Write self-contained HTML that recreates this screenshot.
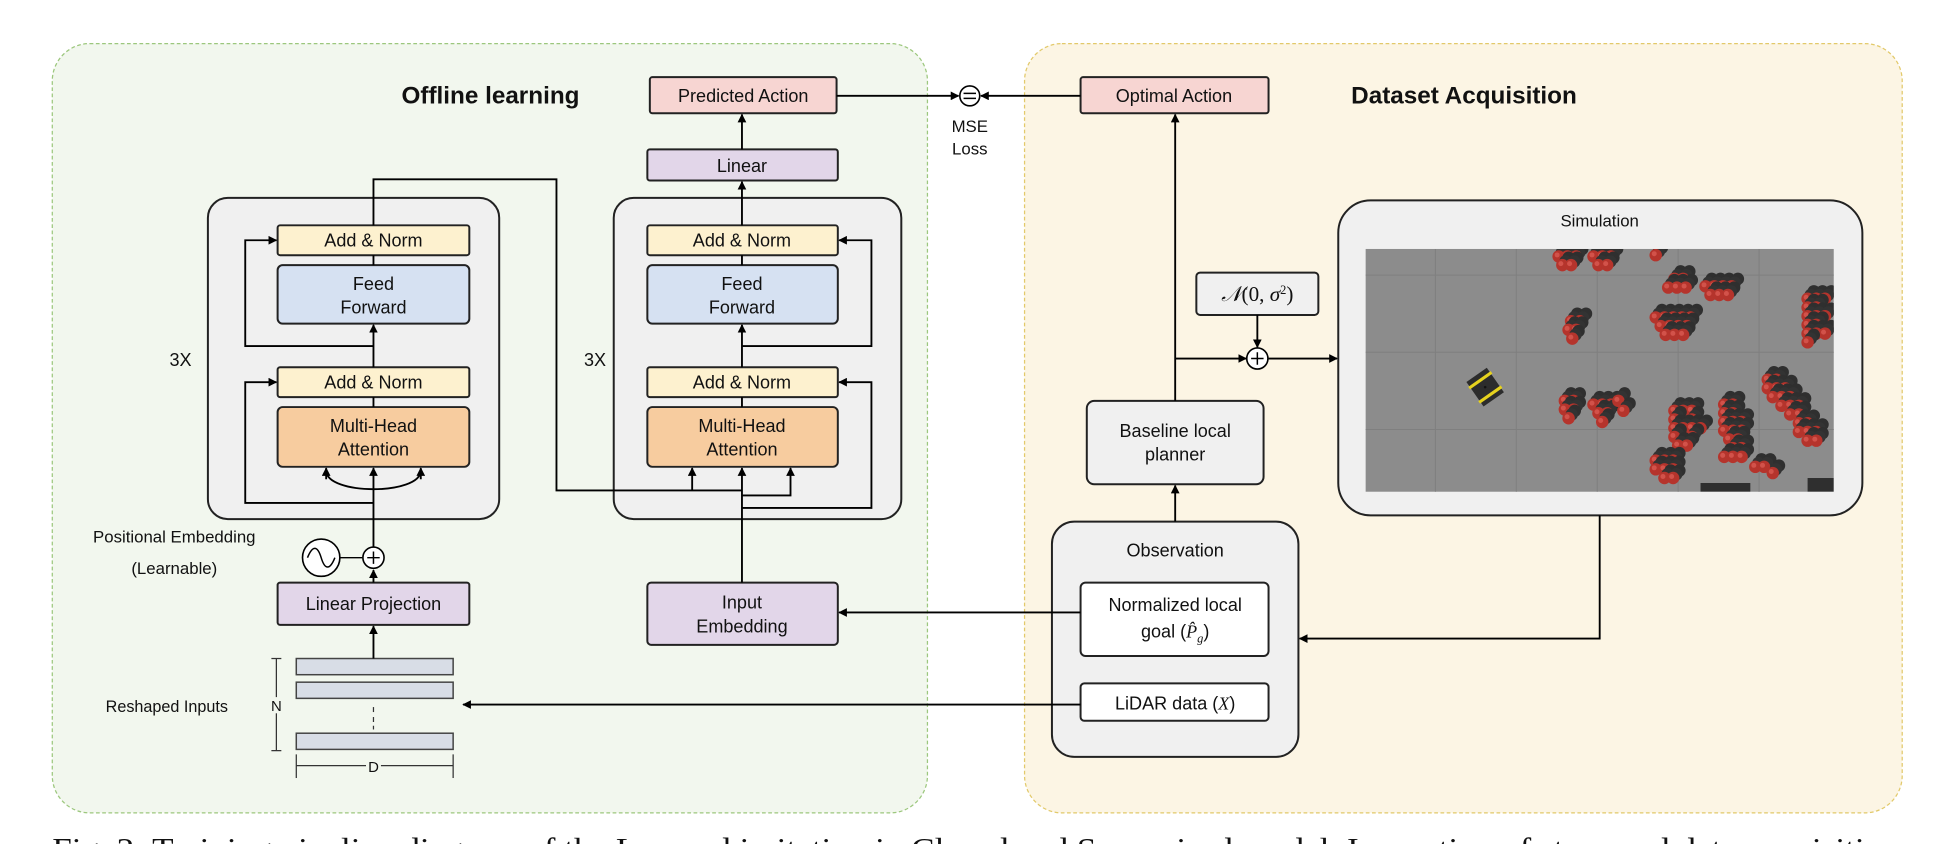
<!DOCTYPE html>
<html><head><meta charset="utf-8"><style>
html,body{margin:0;padding:0;background:#fff;width:1952px;height:844px;overflow:hidden}
svg{display:block}
text{font-family:"Liberation Sans",Arial,sans-serif;fill:#111}
</style></head><body>
<svg width="1952" height="844" viewBox="0 0 1568 678" preserveAspectRatio="none" xmlns="http://www.w3.org/2000/svg">
<defs>
<marker id="a" viewBox="0 0 10 10" refX="9" refY="5" markerWidth="7" markerHeight="7" orient="auto" markerUnits="userSpaceOnUse"><path d="M0,0L10,5L0,10z" fill="#000"/></marker>
<g id="o"><circle cx="5" cy="-6" r="5" fill="#2f2f2f"/><circle cx="2.5" cy="-3" r="5" fill="#333"/><circle r="5" fill="#b5342c"/><circle cx="-1.2" cy="-1.2" r="2" fill="#d2524a"/></g>
</defs>
<!-- panels -->
<rect x="42" y="35" width="703" height="618" rx="30" fill="#f2f7ee" stroke="#9cc77d" stroke-width="1" stroke-dasharray="3,2"/>
<rect x="823" y="35" width="705" height="618" rx="30" fill="#fcf5e4" stroke="#e2c96a" stroke-width="1" stroke-dasharray="3,2"/>
<text x="394" y="83" font-size="19.5" font-weight="bold" text-anchor="middle">Offline learning</text>
<text x="1176" y="83" font-size="19.5" font-weight="bold" text-anchor="middle">Dataset Acquisition</text>

<g stroke="#222" stroke-width="1.6">
<rect x="167" y="159" width="234" height="258" rx="16" fill="#f0f0f0"/>
<rect x="493" y="159" width="231" height="258" rx="16" fill="#f0f0f0"/>
<rect x="223" y="181" width="154" height="24" rx="2" fill="#fdf1cf"/>
<rect x="223" y="213" width="154" height="47" rx="4" fill="#d6e1f2"/>
<rect x="223" y="295" width="154" height="24" rx="2" fill="#fdf1cf"/>
<rect x="223" y="327" width="154" height="48" rx="4" fill="#f7cc9f"/>
<rect x="520" y="181" width="153" height="24" rx="2" fill="#fdf1cf"/>
<rect x="520" y="213" width="153" height="47" rx="4" fill="#d6e1f2"/>
<rect x="520" y="295" width="153" height="24" rx="2" fill="#fdf1cf"/>
<rect x="520" y="327" width="153" height="48" rx="4" fill="#f7cc9f"/>
<rect x="520" y="120" width="153" height="25" rx="2" fill="#e2d6e9"/>
<rect x="522" y="62" width="150" height="29" rx="2" fill="#f7d5d2"/>
<rect x="223" y="468" width="154" height="34" rx="2" fill="#e2d6e9"/>
<rect x="520" y="468" width="153" height="50" rx="3" fill="#e2d6e9"/>
<rect x="868" y="62" width="151" height="29" rx="2" fill="#f7d5d2"/>
<rect x="873" y="322" width="142" height="67" rx="6" fill="#f0f0f0"/>
<rect x="961" y="219" width="98" height="34" rx="3" fill="#f0f0f0"/>
<rect x="1075" y="161" width="421" height="253" rx="26" fill="#f0f0f0"/>
<rect x="845" y="419" width="198" height="189" rx="18" fill="#f0f0f0"/>
<rect x="868" y="468" width="151" height="59" rx="4" fill="#fff"/>
<rect x="868" y="549" width="151" height="30" rx="3" fill="#fff"/>
</g>
<g stroke="#444" stroke-width="1.2" fill="#d8dde6">
<rect x="238" y="529" width="126" height="13"/>
<rect x="238" y="548" width="126" height="13"/>
<rect x="238" y="589" width="126" height="13"/>
</g>
<g stroke="#333" stroke-width="1">
<line x1="300" y1="568" x2="300" y2="572"/><line x1="300" y1="576" x2="300" y2="580"/><line x1="300" y1="583" x2="300" y2="586"/>
<line x1="222" y1="529" x2="222" y2="603"/><line x1="218" y1="529" x2="226" y2="529"/><line x1="218" y1="603" x2="226" y2="603"/>
<line x1="238" y1="615" x2="364" y2="615"/><line x1="238" y1="606" x2="238" y2="625"/><line x1="364" y1="606" x2="364" y2="625"/>
</g>
<rect x="217" y="560" width="10" height="13" fill="#f2f7ee"/>
<text x="222" y="571" font-size="12" text-anchor="middle">N</text>
<rect x="294" y="609" width="12" height="13" fill="#f2f7ee"/>
<text x="300" y="620" font-size="12" text-anchor="middle">D</text>
<text x="134" y="572" font-size="13" text-anchor="middle">Reshaped Inputs</text>

<rect x="1097" y="200" width="376" height="195" fill="#8c8c8c"/>
<g stroke="#7f7f7f" stroke-width="0.8">
<line x1="1153" y1="200" x2="1153" y2="395"/><line x1="1218" y1="200" x2="1218" y2="395"/><line x1="1283" y1="200" x2="1283" y2="395"/><line x1="1348" y1="200" x2="1348" y2="395"/><line x1="1413" y1="200" x2="1413" y2="395"/>
<line x1="1097" y1="221" x2="1473" y2="221"/><line x1="1097" y1="283" x2="1473" y2="283"/><line x1="1097" y1="345" x2="1473" y2="345"/>
</g>
<svg x="1097" y="200" width="376" height="195" viewBox="1097 200 376 195" overflow="hidden">
<use href="#o" x="1252" y="206"/><use href="#o" x="1259" y="206"/><use href="#o" x="1266" y="206"/><use href="#o" x="1255" y="213"/><use href="#o" x="1262" y="213"/>
<use href="#o" x="1280" y="206"/><use href="#o" x="1287" y="206"/><use href="#o" x="1294" y="206"/><use href="#o" x="1284" y="213"/><use href="#o" x="1291" y="213"/><use href="#o" x="1330" y="205"/>
<use href="#o" x="1345" y="224"/><use href="#o" x="1352" y="224"/><use href="#o" x="1340" y="231"/><use href="#o" x="1347" y="231"/><use href="#o" x="1354" y="231"/>
<use href="#o" x="1370" y="230"/><use href="#o" x="1377" y="230"/><use href="#o" x="1384" y="230"/><use href="#o" x="1391" y="230"/><use href="#o" x="1374" y="237"/><use href="#o" x="1381" y="237"/><use href="#o" x="1388" y="237"/>
<use href="#o" x="1330" y="255"/><use href="#o" x="1337" y="255"/><use href="#o" x="1344" y="255"/><use href="#o" x="1351" y="255"/><use href="#o" x="1358" y="255"/>
<use href="#o" x="1334" y="262"/><use href="#o" x="1341" y="262"/><use href="#o" x="1348" y="262"/><use href="#o" x="1355" y="262"/><use href="#o" x="1338" y="269"/><use href="#o" x="1345" y="269"/><use href="#o" x="1352" y="269"/>
<use href="#o" x="1262" y="258"/><use href="#o" x="1269" y="258"/><use href="#o" x="1260" y="265"/><use href="#o" x="1266" y="265"/><use href="#o" x="1263" y="272"/>
<use href="#o" x="1452" y="240"/><use href="#o" x="1459" y="240"/><use href="#o" x="1466" y="240"/><use href="#o" x="1452" y="247"/><use href="#o" x="1459" y="247"/><use href="#o" x="1452" y="254"/><use href="#o" x="1459" y="254"/><use href="#o" x="1466" y="254"/><use href="#o" x="1452" y="261"/><use href="#o" x="1459" y="261"/><use href="#o" x="1452" y="268"/><use href="#o" x="1459" y="268"/><use href="#o" x="1466" y="268"/><use href="#o" x="1452" y="275"/>
<use href="#o" x="1257" y="322"/><use href="#o" x="1264" y="322"/><use href="#o" x="1257" y="329"/><use href="#o" x="1264" y="329"/><use href="#o" x="1260" y="336"/>
<use href="#o" x="1280" y="325"/><use href="#o" x="1287" y="325"/><use href="#o" x="1294" y="325"/><use href="#o" x="1284" y="332"/><use href="#o" x="1291" y="332"/><use href="#o" x="1287" y="339"/><use href="#o" x="1300" y="322"/><use href="#o" x="1304" y="330"/>
<use href="#o" x="1345" y="330"/><use href="#o" x="1352" y="330"/><use href="#o" x="1359" y="330"/><use href="#o" x="1345" y="337"/><use href="#o" x="1359" y="337"/><use href="#o" x="1345" y="344"/><use href="#o" x="1352" y="344"/><use href="#o" x="1359" y="344"/><use href="#o" x="1366" y="344"/><use href="#o" x="1345" y="351"/><use href="#o" x="1359" y="351"/><use href="#o" x="1348" y="358"/><use href="#o" x="1355" y="358"/>
<use href="#o" x="1385" y="325"/><use href="#o" x="1392" y="325"/><use href="#o" x="1385" y="332"/><use href="#o" x="1392" y="332"/><use href="#o" x="1385" y="339"/><use href="#o" x="1392" y="339"/><use href="#o" x="1399" y="339"/><use href="#o" x="1385" y="346"/><use href="#o" x="1392" y="346"/><use href="#o" x="1399" y="346"/><use href="#o" x="1389" y="353"/><use href="#o" x="1396" y="353"/><use href="#o" x="1392" y="360"/><use href="#o" x="1399" y="360"/><use href="#o" x="1385" y="367"/><use href="#o" x="1392" y="367"/><use href="#o" x="1399" y="367"/>
<use href="#o" x="1420" y="305"/><use href="#o" x="1427" y="305"/><use href="#o" x="1420" y="312"/><use href="#o" x="1427" y="312"/><use href="#o" x="1434" y="312"/><use href="#o" x="1424" y="319"/><use href="#o" x="1431" y="319"/><use href="#o" x="1438" y="319"/><use href="#o" x="1431" y="326"/><use href="#o" x="1438" y="326"/><use href="#o" x="1445" y="326"/><use href="#o" x="1438" y="333"/><use href="#o" x="1445" y="333"/><use href="#o" x="1445" y="340"/><use href="#o" x="1452" y="340"/><use href="#o" x="1445" y="347"/><use href="#o" x="1452" y="347"/><use href="#o" x="1459" y="347"/><use href="#o" x="1452" y="354"/><use href="#o" x="1459" y="354"/>
<use href="#o" x="1330" y="370"/><use href="#o" x="1337" y="370"/><use href="#o" x="1344" y="370"/><use href="#o" x="1330" y="377"/><use href="#o" x="1337" y="377"/><use href="#o" x="1344" y="377"/><use href="#o" x="1337" y="384"/><use href="#o" x="1344" y="384"/>
<use href="#o" x="1410" y="375"/><use href="#o" x="1417" y="375"/><use href="#o" x="1424" y="380"/>
<rect x="1366" y="388" width="40" height="7" fill="#2f2f2f"/><rect x="1452" y="384" width="21" height="11" fill="#2f2f2f"/>
</svg>
<g transform="translate(1193,311) rotate(-35)">
<rect x="-10" y="-12" width="20" height="24" fill="#2c2c2c"/>
<rect x="-11" y="-8" width="22" height="2.5" fill="#e6d21e"/>
<rect x="-11" y="6" width="22" height="2.5" fill="#e6d21e"/>
<circle r="1" fill="#111"/>
</g>

<g stroke="#000" stroke-width="1.5" fill="none">
<line x1="300" y1="529" x2="300" y2="503" marker-end="url(#a)"/>
<line x1="300" y1="468" x2="300" y2="458" marker-end="url(#a)"/>
<line x1="300" y1="439" x2="300" y2="376" marker-end="url(#a)"/>
<path d="M262,378 C262,398 338,398 338,378"/>
<line x1="262" y1="385" x2="262" y2="376" marker-end="url(#a)"/>
<line x1="338" y1="385" x2="338" y2="376" marker-end="url(#a)"/>
<line x1="300" y1="327" x2="300" y2="319"/>
<line x1="300" y1="295" x2="300" y2="261" marker-end="url(#a)"/>
<line x1="300" y1="213" x2="300" y2="205"/>
<path d="M300,404 H197 V307 H222" marker-end="url(#a)"/>
<path d="M300,278 H197 V193 H222" marker-end="url(#a)"/>
<path d="M300,181 V144 H447 V394 H596"/>
<line x1="556" y1="394" x2="556" y2="376" marker-end="url(#a)"/>
<line x1="596" y1="468" x2="596" y2="376" marker-end="url(#a)"/>
<path d="M596,398 H635 V376" marker-end="url(#a)"/>
<path d="M596,408 H700 V307 H674" marker-end="url(#a)"/>
<path d="M596,278 H700 V193 H674" marker-end="url(#a)"/>
<line x1="596" y1="327" x2="596" y2="319"/>
<line x1="596" y1="295" x2="596" y2="261" marker-end="url(#a)"/>
<line x1="596" y1="213" x2="596" y2="205"/>
<line x1="596" y1="181" x2="596" y2="146" marker-end="url(#a)"/>
<line x1="596" y1="120" x2="596" y2="92" marker-end="url(#a)"/>
<line x1="672" y1="77" x2="770" y2="77" marker-end="url(#a)"/>
<line x1="868" y1="77" x2="788" y2="77" marker-end="url(#a)"/>
<line x1="944" y1="322" x2="944" y2="92" marker-end="url(#a)"/>
<line x1="944" y1="288" x2="1001" y2="288" marker-end="url(#a)"/>
<line x1="1010" y1="253" x2="1010" y2="279" marker-end="url(#a)"/>
<line x1="1019" y1="288" x2="1074" y2="288" marker-end="url(#a)"/>
<line x1="944" y1="419" x2="944" y2="390" marker-end="url(#a)"/>
<path d="M1285,414 V513 H1044" marker-end="url(#a)"/>
<line x1="868" y1="492" x2="674" y2="492" marker-end="url(#a)"/>
<line x1="868" y1="566" x2="372" y2="566" marker-end="url(#a)"/>
</g>
<g stroke="#000" stroke-width="1.3" fill="#fff">
<circle cx="300" cy="448" r="8.5"/>
<circle cx="258" cy="448" r="15"/>
<circle cx="1010" cy="288" r="8.5"/>
<circle cx="779" cy="77" r="8"/>
</g>
<g stroke="#000" stroke-width="1.2" fill="none">
<path d="M295,448H305M300,443V453"/>
<path d="M1005,288H1015M1010,283V293"/>
<path d="M774,75H784M774,79H784"/>
<path d="M247,448 C251,438 255,438 258,448 C261,458 265,458 269,448"/>
<line x1="273" y1="448" x2="291" y2="448"/>
</g>

<g font-size="14.5" text-anchor="middle">
<text x="300" y="198">Add &amp; Norm</text>
<text x="300" y="233">Feed</text><text x="300" y="252">Forward</text>
<text x="300" y="312">Add &amp; Norm</text>
<text x="300" y="347">Multi-Head</text><text x="300" y="366">Attention</text>
<text x="596" y="198">Add &amp; Norm</text>
<text x="596" y="233">Feed</text><text x="596" y="252">Forward</text>
<text x="596" y="312">Add &amp; Norm</text>
<text x="596" y="347">Multi-Head</text><text x="596" y="366">Attention</text>
<text x="596" y="138">Linear</text>
<text x="597" y="82">Predicted Action</text>
<text x="300" y="490">Linear Projection</text>
<text x="596" y="489">Input</text><text x="596" y="508">Embedding</text>
<text x="943" y="82">Optimal Action</text>
<text x="944" y="351">Baseline local</text><text x="944" y="370">planner</text>
<text x="1285" y="182" font-size="13.5">Simulation</text>
<text x="944" y="447">Observation</text>
<text x="944" y="491">Normalized local</text>
<text x="944" y="512">goal (<tspan style="font-family:'Liberation Serif',serif;font-style:italic">P̂</tspan><tspan style="font-family:'Liberation Serif',serif;font-style:italic" font-size="10" dy="4">g</tspan><tspan dy="-4">)</tspan></text>
<text x="944" y="570">LiDAR data (<tspan style="font-family:'Liberation Serif',serif;font-style:italic">X</tspan>)</text>
<text x="1010" y="242" font-size="17" style="font-family:'Liberation Serif','DejaVu Serif',serif"><tspan font-style="italic">𝒩</tspan>(0, <tspan font-style="italic">σ</tspan><tspan font-size="10" dy="-6">2</tspan><tspan dy="6">)</tspan></text>
<text x="145" y="294">3X</text>
<text x="478" y="294">3X</text>
<text x="140" y="436" font-size="13.5">Positional Embedding</text>
<text x="140" y="461" font-size="13.5">(Learnable)</text>
<text x="779" y="106" font-size="13.5">MSE</text>
<text x="779" y="124" font-size="13.5">Loss</text>
</g>
<text x="42" y="690" font-size="25" textLength="1484" lengthAdjust="spacingAndGlyphs" style="font-family:'Liberation Serif',serif">Fig. 2: Training pipeline diagram of the Learned imitation in Closed and Supervised model. Inspection of steps and data acquisition</text>
</svg>
</body></html>
